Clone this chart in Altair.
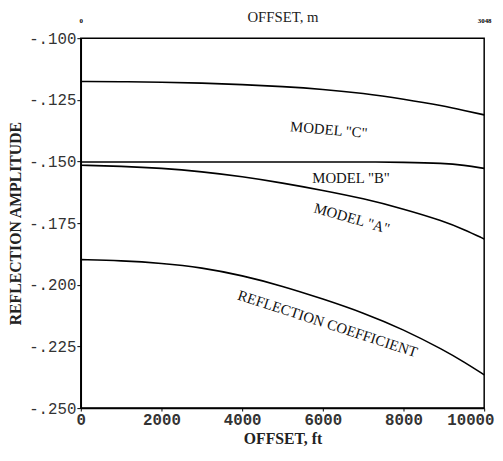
import altair as alt
import pandas as pd

offset_ft = [0, 1000, 2000, 3000, 4000, 5000, 6000, 7000, 8000, 9000, 9500, 10000]
model_c = [-0.1176, -0.1176, -0.1178, -0.1182, -0.1188, -0.1196, -0.1207, -0.1223, -0.1247, -0.1275, -0.1293, -0.1311]
model_b = [-0.1502, -0.1502, -0.1502, -0.1502, -0.1502, -0.1502, -0.1502, -0.1502, -0.1503, -0.1507, -0.1515, -0.1528]
model_a = [-0.1515, -0.1519, -0.1527, -0.1541, -0.1561, -0.1587, -0.1617, -0.1650, -0.1692, -0.1742, -0.1776, -0.1814]
refl_coef = [-0.1898, -0.1902, -0.1912, -0.1930, -0.1962, -0.2005, -0.2057, -0.2113, -0.2181, -0.2265, -0.2313, -0.2365]

label_text = ['MODEL "C"', 'MODEL "B"', 'MODEL "A"', 'REFLECTION COEFFICIENT']
label_x = [6150, 6700, 6720, 6120]
label_y = [-0.1371, -0.1567, -0.1730, -0.2157]
label_angle = [5, 0, 16, 18]

rows = []
for name, vals in [("C", model_c), ("B", model_b), ("A", model_a), ("RC", refl_coef)]:
    for x, v in zip(offset_ft, vals):
        rows.append({"series": name, "ft": x, "amp": v})
df = pd.DataFrame(rows)
labels = pd.DataFrame({"text": label_text, "x": label_x, "y": label_y, "angle": label_angle})

xscale = alt.Scale(domain=[0, 10000], nice=False)
yscale = alt.Scale(domain=[-0.25, -0.10], nice=False)

mono = "Liberation Mono"
serif = "Liberation Serif"

yaxis = alt.Axis(title="REFLECTION AMPLITUDE",
                 values=[-0.25, -0.225, -0.2, -0.175, -0.15, -0.125, -0.1],
                 labelExpr="'-' + substring(format(abs(datum.value), '.3f'), 1)",
                 labelFont=mono, labelFontSize=16, labelColor="#333",
                 titleFont=serif, titleFontSize=16, titleFontWeight="bold",
                 titleColor="#222", tickSize=4, tickColor="black", domainColor="black",
                 domainWidth=1.5, labelPadding=1, titlePadding=5, grid=False)

lines = alt.Chart(df).mark_line(color="black", strokeWidth=1.6, interpolate="basis").encode(
    x=alt.X("ft:Q", scale=xscale,
            axis=alt.Axis(title="OFFSET, ft", values=[0, 2000, 4000, 6000, 8000, 10000],
                          format="d", labelFont=mono, labelFontSize=16, labelFontWeight="bold",
                          labelColor="#333", titleFont=serif, titleFontSize=16, titleFontWeight="bold",
                          titleColor="#222", tickSize=3, tickColor="black", domainColor="black",
                          domainWidth=1.5, labelPadding=1, titlePadding=3, grid=False,
                          labelFlush=False,
                          labelAlign={"expr": "datum.value == 10000 ? 'right' : 'center'"},
                          labelOffset={"expr": "datum.value == 10000 ? 10 : 0"})),
    y=alt.Y("amp:Q", scale=yscale, axis=yaxis),
    detail="series:N",
)

top = alt.Chart(pd.DataFrame({"ft": [0, 10000]})).mark_point(opacity=0).encode(
    x=alt.X("ft:Q", scale=xscale,
            axis=alt.Axis(orient="top", title="OFFSET, m", values=[0, 10000],
                          labelExpr="datum.value == 0 ? '0' : '3048'",
                          labelFont=serif, labelFontSize=7, labelFontWeight="bold",
                          labelColor="black", titleFont=serif, titleFontSize=15,
                          titleColor="#222", titleFontWeight="normal",
                          ticks=False, domain=False, labelPadding=15, titlePadding=-8,
                          grid=False, labelFlush=False)),
)

text = alt.Chart(labels).mark_text(font=serif, fontSize=15, color="#111").encode(
    x=alt.X("x:Q", scale=xscale, axis=None),
    y=alt.Y("y:Q", scale=yscale, axis=yaxis),
    text="text:N",
    angle=alt.Angle("angle:Q", scale=None),
)

chart = alt.layer(lines, text, top).resolve_axis(x="independent").properties(
    width=410, height=376,
    background="white",
    autosize=alt.AutoSizeParams(type="none"),
    padding={"left": 74, "top": 27, "right": 11, "bottom": 45},
).configure_view(stroke="black", strokeWidth=1.5)

chart.save("out.html", embed_options={"renderer": "svg", "actions": False})
